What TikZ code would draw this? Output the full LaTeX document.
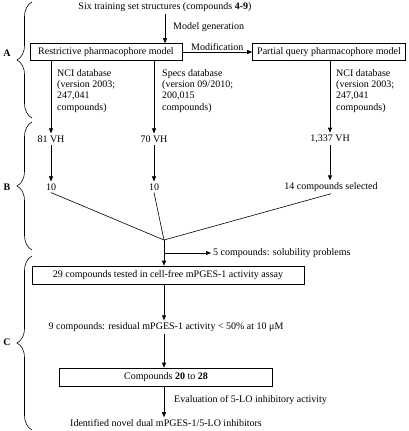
\documentclass[tikz,border=0pt]{standalone}
\usepackage{fontspec}
\setmainfont{Liberation Serif}
\usetikzlibrary{arrows.meta,decorations.pathreplacing,calc}
\begin{document}
\begin{tikzpicture}[x=1pt,y=-1pt,
  every node/.style={font=\fontsize{10}{11}\selectfont},
  txt/.style={inner sep=2pt},
  boxnode/.style={draw,line width=0.6pt,minimum height=17pt,inner xsep=4pt,inner ysep=0pt},
  arr/.style={-{Triangle[length=5pt,width=4pt]},line width=0.6pt},
  ln/.style={line width=0.6pt},
  brc/.style={decorate,decoration={brace,amplitude=15pt},line width=0.6pt},
  lbl/.style={font=\fontsize{10}{11}\selectfont\bfseries}]
\useasboundingbox (0,0) rectangle (408,431);

% stage A
\node[txt] (six) at (165,7) {Six training set structures (compounds \textbf{4-9})};
\node[boxnode, minimum width=152pt] (rbox) at (106,52) {Restrictive pharmacophore model};
\node[boxnode, minimum width=153pt] (pbox) at (329,52) {Partial query pharmacophore model};
\draw[arr] (six.south) -- (six.south |- rbox.north);
\node[txt, anchor=west] (mg) at (171,27) {Model generation};
\draw[arr] (rbox.east) -- node[above, inner sep=1pt] (mod) {Modification} (pbox.west);

\node[txt] (vh81) at (51,139) {81 VH};
\node[txt] (vh70) at (154,139) {70 VH};
\node[txt] (vh1337) at (330,139) {1,337 VH};
\draw[arr] (rbox.south -| vh81) -- (vh81.north);
\draw[arr] (rbox.south -| vh70) -- (vh70.north);
\draw[arr] (pbox.south -| vh1337) -- (vh1337.north);

\node[txt, anchor=north west, align=left, font=\fontsize{10}{11.3}\selectfont] (nci1) at (55,67) {NCI database\\(version 2003;\\247,041\\compounds)};
\node[txt, anchor=north west, align=left, font=\fontsize{10}{11.3}\selectfont] (specs) at (160,67) {Specs database\\(version 09/2010;\\200,015\\compounds)};
\node[txt, anchor=north west, align=left, font=\fontsize{10}{11.3}\selectfont] (nci2) at (334,67) {NCI database\\(version 2003;\\247,041\\compounds)};

% stage B
\node[txt] (ten1) at (51,187) {10};
\node[txt] (ten2) at (154,187) {10};
\node[txt] (sel14) at (331,187) {14 compounds selected};
\draw[arr] (vh81.south) -- (ten1.north);
\draw[arr] (vh70.south) -- (ten2.north);
\draw[arr] (vh1337.south) -- (vh1337.south |- sel14.north);

\coordinate (merge) at (164,240);
\coordinate (br) at (164,253);
\draw[ln] (ten1.south) -- (merge);
\draw[ln] (ten2.south) -- (merge);
\draw[ln] (sel14.south) -- (merge);

\node[txt, anchor=west] (sol) at (211,253) {5 compounds: solubility problems};
\draw[arr] (br) -- (sol.west);

% stage C
\node[boxnode, minimum width=272pt, minimum height=18pt] (box29) at (168,275) {29 compounds tested in cell-free mPGES-1 activity assay};
\draw[arr] (merge) -- (merge |- box29.north);

\node[txt] (nine) at (166,327) {9 compounds: residual mPGES-1 activity < 50\% at 10 μM};
\draw[arr] (box29.south -| merge) -- (nine.north -| merge);

\node[boxnode, minimum width=213pt, minimum height=18pt] (box2028) at (166,377) {Compounds \textbf{20} to \textbf{28}};
\draw[arr] (nine.south -| merge) -- (box2028.north -| merge);

\node[txt] (ident) at (166,423) {Identified novel dual mPGES-1/5-LO inhibitors};
\draw[arr] (box2028.south -| merge) -- (ident.north -| merge);
\node[txt, anchor=west] (eval) at (172,400) {Evaluation of 5-LO inhibitory activity};

% braces
\draw[brc] (32,118) -- (32,2);
\draw[brc] (32,250) -- (32,122);
\draw[brc] (32,430) -- (32,256);
\node[lbl] (la) at (7,53) {A};
\node[lbl] (lb) at (7,187) {B};
\node[lbl] (lc) at (7,342) {C};
\end{tikzpicture}
\end{document}
